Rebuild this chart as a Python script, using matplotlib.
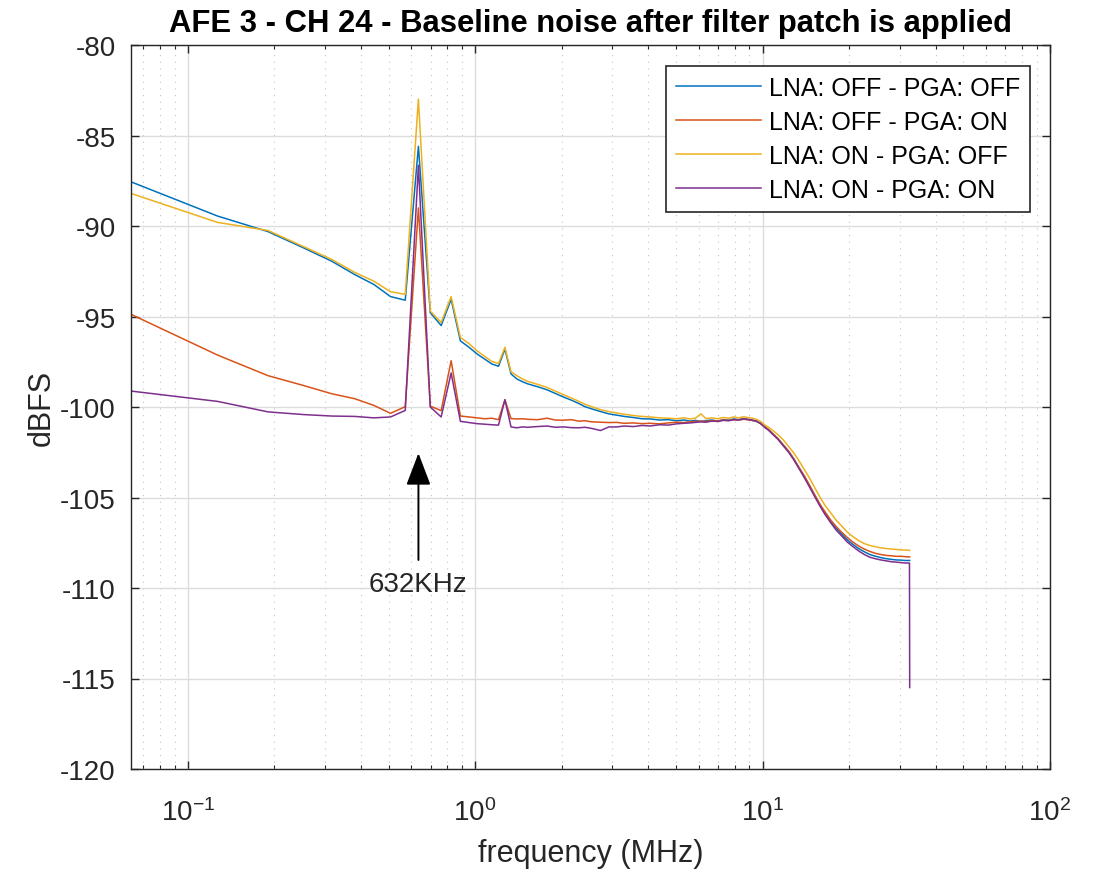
import matplotlib
matplotlib.use("Agg")
import matplotlib.pyplot as plt
from matplotlib.ticker import LogLocator, FixedLocator, NullFormatter

plt.rcParams['font.family'] = ['Liberation Sans', 'DejaVu Sans']
plt.rcParams['mathtext.fontset'] = 'custom'
plt.rcParams['mathtext.rm'] = 'Liberation Sans'
plt.rcParams['mathtext.it'] = 'Liberation Sans:italic'

freq_mhz = [0.0635, 0.1270, 0.1904, 0.2539, 0.3174, 0.3809, 0.4443, 0.5078, 0.5713, 0.6348,
            0.6982, 0.7617, 0.8252, 0.8887, 0.9521, 1.0156, 1.0791, 1.1426, 1.2061, 1.2695,
            1.3330, 1.3965, 1.4600, 1.5234,
            1.65, 1.78, 1.90, 2.03, 2.16, 2.29, 2.41, 2.54, 2.73, 2.92,
            3.11, 3.30, 3.55, 3.81, 4.06, 4.38, 4.70, 5.02, 5.33, 5.59,
            5.84, 6.10, 6.35, 6.67, 6.98, 7.30, 7.62, 7.94, 8.25, 8.57,
            8.89, 9.20, 9.52, 9.84, 10.16, 10.48, 10.86, 11.30, 11.81, 12.32,
            12.82, 13.33, 13.97, 14.60, 15.24, 15.87, 16.51, 17.27, 18.03, 18.79,
            19.68, 20.57, 21.59, 22.60, 23.62, 24.64, 25.78, 26.92, 28.07, 29.21,
            30.35, 31.36, 32.44, 32.50]

lna_off_pga_off = [-87.56, -89.45, -90.31, -91.22, -91.95, -92.68, -93.23, -93.90, -94.10, -85.60,
                   -94.79, -95.50, -94.05, -96.35, -96.70, -97.07, -97.35, -97.62, -97.75, -96.80,
                   -98.17, -98.45, -98.60, -98.72,
                   -98.88, -99.05, -99.25, -99.45, -99.62, -99.80, -99.98, -100.10, -100.25, -100.38,
                   -100.45, -100.52, -100.58, -100.65, -100.66, -100.72, -100.70, -100.76, -100.72, -100.78,
                   -100.74, -100.80, -100.75, -100.72, -100.78, -100.70, -100.73, -100.66, -100.70, -100.64,
                   -100.70, -100.74, -100.80, -100.90, -101.08, -101.25, -101.48, -101.74, -102.10, -102.45,
                   -102.85, -103.30, -103.85, -104.38, -104.92, -105.42, -105.88, -106.32, -106.70, -107.00,
                   -107.33, -107.58, -107.82, -108.00, -108.15, -108.24, -108.32, -108.38, -108.42, -108.45,
                   -108.46, -108.48, -108.48, -108.48]

lna_off_pga_on = [-94.88, -97.13, -98.27, -98.82, -99.27, -99.54, -99.91, -100.35, -99.98, -89.00,
                  -99.95, -100.20, -97.44, -100.50, -100.55, -100.60, -100.65, -100.62, -100.70, -99.60,
                  -100.64, -100.66, -100.65, -100.68,
                  -100.70, -100.62, -100.72, -100.73, -100.70, -100.78, -100.76, -100.82, -100.84, -100.86,
                  -100.85, -100.90, -100.88, -100.92, -100.90, -100.93, -100.88, -100.84, -100.86, -100.82,
                  -100.80, -100.78, -100.80, -100.75, -100.77, -100.72, -100.74, -100.70, -100.72, -100.68,
                  -100.70, -100.74, -100.78, -100.90, -101.08, -101.24, -101.48, -101.74, -102.10, -102.44,
                  -102.85, -103.30, -103.80, -104.35, -104.90, -105.40, -105.80, -106.25, -106.60, -106.90,
                  -107.20, -107.45, -107.68, -107.85, -107.98, -108.08, -108.15, -108.20, -108.22, -108.25,
                  -108.25, -108.27, -108.28, -108.28]

lna_on_pga_off = [-88.20, -89.80, -90.25, -91.15, -91.85, -92.56, -93.05, -93.63, -93.78, -82.99,
                  -94.70, -95.33, -93.90, -96.16, -96.50, -96.90, -97.20, -97.48, -97.60, -96.70,
                  -98.05, -98.27, -98.45, -98.58,
                  -98.75, -98.92, -99.12, -99.32, -99.50, -99.68, -99.85, -99.98, -100.15, -100.25,
                  -100.33, -100.40, -100.47, -100.52, -100.55, -100.60, -100.62, -100.65, -100.60, -100.66,
                  -100.62, -100.38, -100.64, -100.60, -100.65, -100.58, -100.62, -100.55, -100.60, -100.54,
                  -100.58, -100.62, -100.68, -100.80, -100.98, -101.12, -101.30, -101.52, -101.82, -102.18,
                  -102.52, -102.92, -103.45, -103.95, -104.50, -105.00, -105.45, -105.85, -106.25, -106.55,
                  -106.90, -107.15, -107.38, -107.55, -107.65, -107.72, -107.78, -107.82, -107.85, -107.87,
                  -107.90, -107.90, -107.92, -107.92]

lna_on_pga_on = [-99.12, -99.69, -100.27, -100.42, -100.50, -100.52, -100.60, -100.55, -100.19, -86.65,
                 -100.00, -100.55, -98.12, -100.79, -100.86, -100.92, -100.95, -100.98, -101.00, -99.60,
                 -101.10, -101.15, -101.10, -101.12,
                 -101.08, -101.05, -101.12, -101.10, -101.14, -101.15, -101.12, -101.18, -101.30, -101.10,
                 -101.10, -101.05, -101.08, -101.02, -101.05, -100.98, -101.00, -100.93, -100.90, -100.88,
                 -100.85, -100.82, -100.84, -100.78, -100.80, -100.74, -100.76, -100.70, -100.72, -100.66,
                 -100.68, -100.72, -100.78, -100.92, -101.12, -101.28, -101.52, -101.78, -102.15, -102.50,
                 -102.90, -103.35, -103.90, -104.45, -105.00, -105.50, -105.95, -106.40, -106.80, -107.10,
                 -107.45, -107.70, -107.95, -108.15, -108.30, -108.38, -108.45, -108.50, -108.55, -108.57,
                 -108.60, -108.62, -108.62, -115.50]

series_labels = ['LNA: OFF - PGA: OFF', 'LNA: OFF - PGA: ON', 'LNA: ON - PGA: OFF', 'LNA: ON - PGA: ON']
series_colors = ['#0072BD', '#D95319', '#EDB120', '#7E2F8E']
series_values = [lna_off_pga_off, lna_off_pga_on, lna_on_pga_off, lna_on_pga_on]

title_text = 'AFE 3 - CH 24 - Baseline noise after filter patch is applied'
annot_text = '632KHz'
annot_freq = 0.635
y_ticks = [-120, -115, -110, -105, -100, -95, -90, -85, -80]
x_major = [0.1, 1, 10, 100]
x_major_labels = [r'$10^{-1}$', r'$10^{0}$', r'$10^{1}$', r'$10^{2}$']

dark = '#262626'
fig = plt.figure(figsize=(11.02, 8.70), dpi=100)
ax = fig.add_axes([131/1102, 100/870, 919/1102, 724/870])

for vals, lab, col in zip(series_values, series_labels, series_colors):
    assert len(vals) == len(freq_mhz)
    ax.plot(freq_mhz, vals, color=col, lw=1.1, label=lab)

ax.set_xscale('log')
ax.set_xlim(0.0635, 100)
ax.set_ylim(-120, -80)
ax.set_yticks(y_ticks)
ax.set_yticklabels([str(v) for v in y_ticks])
ax.xaxis.set_major_locator(FixedLocator(x_major))
ax.set_xticklabels(x_major_labels)
ax.xaxis.set_minor_locator(LogLocator(base=10, subs=range(2, 10), numticks=20))
ax.xaxis.set_minor_formatter(NullFormatter())

ax.grid(True, which='major', color='#dcdcdc', lw=1.0)
ax.grid(True, which='minor', axis='x', color='#c4c4c4', lw=0.8, linestyle=(0, (1, 5)))
ax.set_axisbelow(True)

ax.tick_params(which='both', direction='in', top=True, right=True, colors=dark,
               labelsize=20, labelcolor=dark)
ax.tick_params(which='major', length=6, width=1)
ax.tick_params(which='minor', length=3, width=0.8)
ax.tick_params(axis='x', pad=21)
ax.tick_params(axis='y', pad=11)
for sp in ax.spines.values():
    sp.set_color(dark)
    sp.set_linewidth(1.0)

ax.set_xlabel('frequency (MHz)', fontsize=22, color=dark, labelpad=9)
ax.set_ylabel('dBFS', fontsize=22, color=dark, labelpad=2)
ax.set_title(title_text, fontsize=22.3, fontweight='bold', color='black', pad=10)

leg = ax.legend(loc='upper right', bbox_to_anchor=((1030-131)/919, (770-67)/724),
                borderaxespad=0, fontsize=18, frameon=True, fancybox=False,
                handlelength=3.4, handletextpad=0.3, labelspacing=0.4, borderpad=0.4)
leg.get_frame().set_edgecolor(dark)
leg.get_frame().set_linewidth(1.2)
leg.get_frame().set_alpha(1)

ax.annotate('', xy=(annot_freq, -102.55), xytext=(annot_freq, -108.45),
            arrowprops=dict(arrowstyle='-|>,head_length=1.0,head_width=0.38',
                            color='black', lw=1.4, mutation_scale=20,
                            shrinkA=0, shrinkB=0))
ax.text(annot_freq, -110.15, annot_text, ha='center', va='baseline', fontsize=20, color=dark)

fig.savefig('out.png', dpi=100)
